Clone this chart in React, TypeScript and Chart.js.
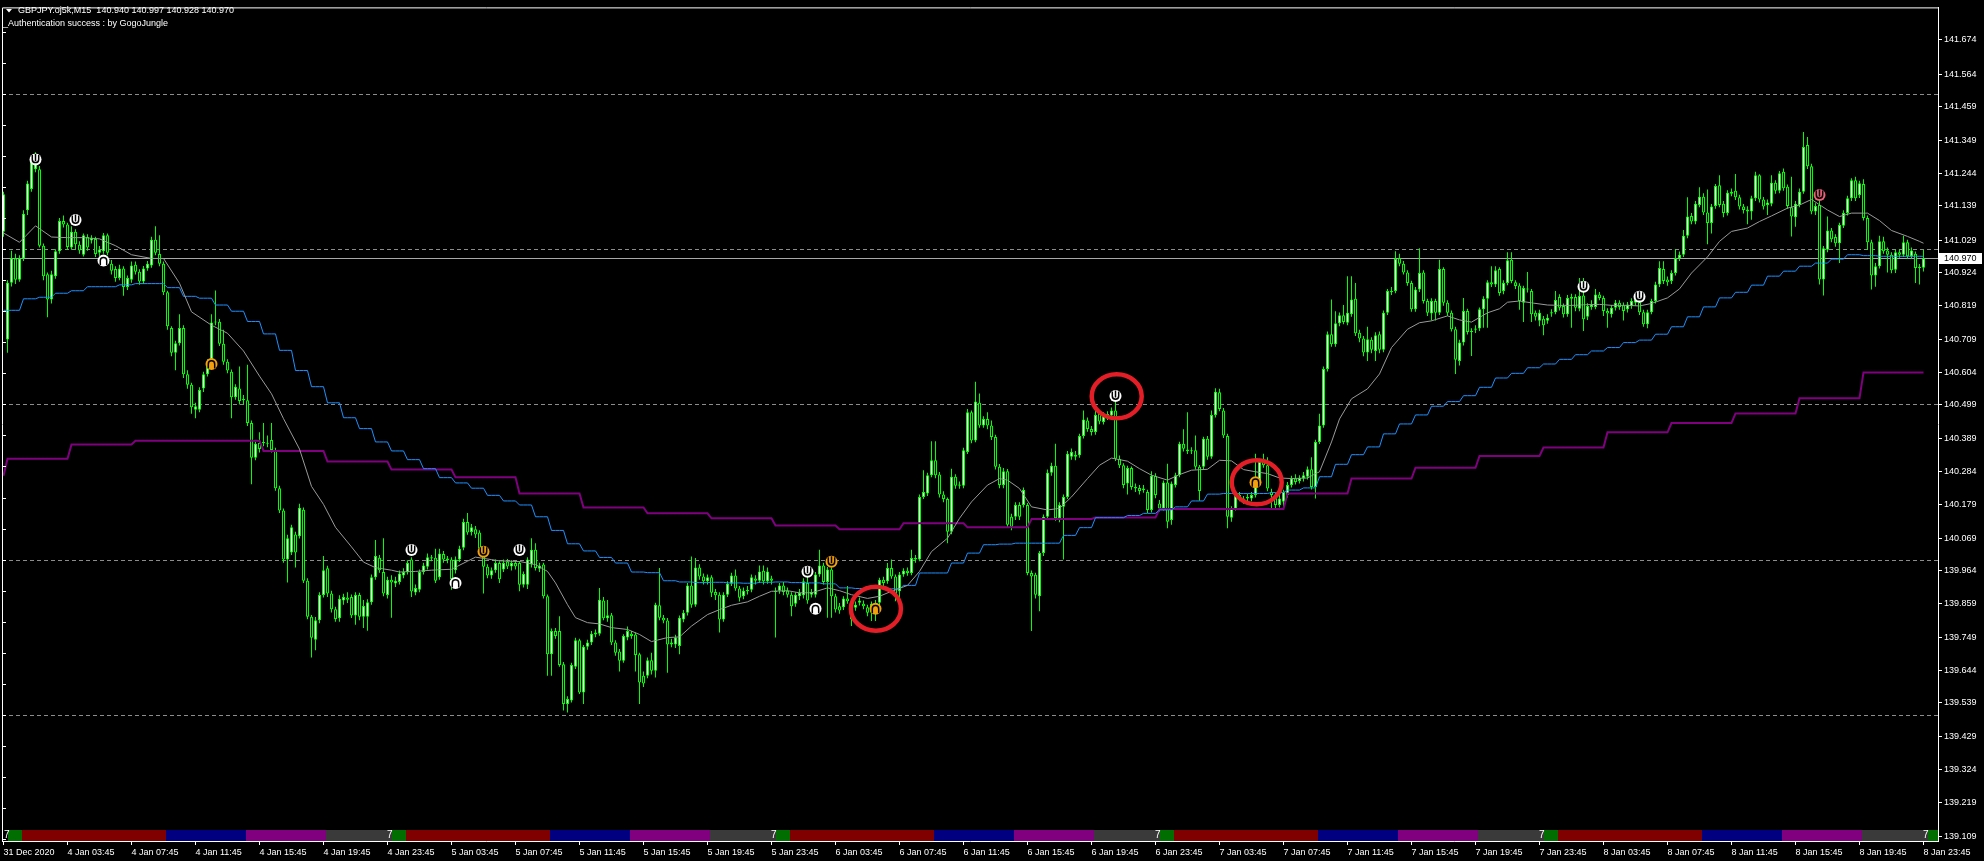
import React, { useEffect, useRef } from 'react';
import { Chart, registerables } from 'chart.js';

Chart.register(...registerables);

const FONT_FAMILY = '"Liberation Sans", Arial, sans-serif';
const PRICE_BASE = 139;
const POINT = 0.001;

// OHLC of each M15 bar, in points above 139.000 (1 point = 0.001)
const openPts = [
  2056,1709,1892,1970,1901,1970,2125,2194,2257,2257,
  2011,1919,1838,1913,1993,2091,2079,2005,2056,2014,
  1982,2039,2028,2033,1988,1993,2045,1953,1936,1907,
  1938,1878,1901,1950,1927,1896,1938,1947,2030,1984,
  1953,1861,1746,1666,1697,1746,1597,1563,1483,1483,
  1551,1597,1637,1764,1766,1695,1637,1605,1523,1551,
  1517,1513,1440,1328,1376,1379,1376,1385,1353,1230,
  1158,1000,1023,1081,1075,1161,932,816,742,805,
  886,972,891,840,811,868,878,880,820,886,
  816,816,863,943,1006,960,886,935,923,928,
  949,960,1000,894,903,960,977,1008,1006,943,
  1018,1004,1000,966,1000,1038,1121,1089,1098,1087,
  1035,977,949,966,989,968,994,978,989,989,
  919,919,984,1032,971,984,882,695,770,770,
  663,535,546,655,740,572,719,733,759,761,
  868,811,821,733,704,674,749,761,759,695,
  626,626,676,642,853,813,804,727,727,722,
  807,829,917,855,975,946,930,943,896,887,
  807,887,922,949,907,882,898,903,939,932,
  964,930,939,900,900,917,900,887,858,882,
  885,925,887,887,952,981,928,968,882,850,
  847,875,845,845,861,858,847,829,850,861,
  935,930,973,946,898,952,964,957,1005,1000,
  1202,1213,1272,1320,1274,1210,1195,1090,1267,1238,
  1238,1347,1475,1384,1505,1432,1453,1432,1395,1299,
  1240,1285,1138,1138,1176,1176,1176,957,951,882,
  1021,1138,1280,1302,1133,1170,1202,1331,1338,1336,
  1398,1448,1421,1411,1469,1443,1459,1464,1480,1325,
  1304,1245,1295,1234,1231,1224,1218,1160,1270,1181,
  1165,1248,1128,1240,1272,1373,1355,1349,1352,1299,
  1299,1389,1331,1466,1539,1480,1398,1135,1165,1208,
  1197,1197,1197,1208,1245,1315,1304,1218,1208,1176,
  1186,1208,1240,1261,1253,1261,1267,1291,1234,1379,
  1432,1614,1726,1694,1761,1787,1763,1790,1840,1731,
  1712,1667,1708,1672,1726,1676,1795,1865,1865,1971,
  1953,1925,1891,1806,1870,1925,1833,1793,1833,1795,
  1936,1827,1795,1742,1640,1699,1801,1733,1740,1744,
  1806,1840,1893,1886,1936,1865,1891,1966,1893,1883,
  1827,1872,1865,1795,1769,1776,1769,1793,1797,1846,
  1817,1790,1840,1846,1808,1851,1782,1814,1814,1854,
  1843,1801,1790,1811,1827,1819,1806,1817,1827,1829,
  1797,1758,1797,1833,1886,1936,1902,1897,1923,1971,
  1982,2043,2107,2089,2142,2169,2118,2084,2139,2206,
  2146,2116,2178,2188,2167,2137,2121,2121,2164,2238,
  2160,2142,2146,2214,2188,2249,2201,2135,2103,2142,
  2185,2335,2267,2121,2142,1902,1998,2060,2039,2019,
  2075,2116,2164,2222,2174,2210,2100,2022,1915,1945,
  2025,1996,1982,1934,1990,1982,2022,1977,1985,1943,
  1940
];
const highPts = [
  2185,1900,1995,1985,1980,2125,2220,2300,2312,2268,
  2018,1925,1930,2000,2100,2108,2085,2074,2064,2025,
  2050,2048,2045,2040,2010,2052,2050,1965,1945,1950,
  1945,1915,1960,1960,1935,1946,1962,2040,2074,2045,
  1960,1866,1752,1705,1790,1755,1610,1570,1505,1555,
  1605,1645,1790,1867,1775,1740,1645,1612,1565,1622,
  1530,1628,1448,1380,1410,1440,1400,1440,1360,1238,
  1165,1080,1112,1090,1180,1168,940,822,815,895,
  1012,980,900,848,885,890,895,888,895,893,
  870,872,952,1063,1015,1069,945,950,945,965,
  972,998,1008,920,968,990,1020,1015,1035,1035,
  1028,1012,1008,1010,1045,1132,1150,1115,1108,1095,
  1042,985,975,1000,995,1000,1002,998,996,995,
  962,1008,1069,1053,990,990,888,778,780,818,
  670,560,668,748,745,725,742,770,775,909,
  880,870,828,740,712,760,785,770,765,700,
  640,685,700,861,973,822,812,745,758,820,
  838,925,1010,1005,985,955,952,950,905,895,
  895,930,958,968,915,910,915,952,950,981,
  981,975,948,910,925,928,910,895,895,905,
  940,952,905,960,1032,990,976,975,890,860,
  882,915,852,865,878,868,855,865,870,942,
  945,989,1000,952,960,972,975,1032,1015,1210,
  1288,1280,1381,1381,1282,1220,1200,1293,1275,1252,
  1360,1485,1480,1573,1535,1462,1475,1448,1402,1308,
  1295,1292,1148,1185,1185,1232,1182,965,958,1028,
  1145,1290,1312,1373,1185,1210,1350,1358,1350,1405,
  1480,1458,1430,1485,1478,1475,1478,1490,1512,1335,
  1310,1302,1300,1245,1240,1240,1225,1285,1278,1192,
  1255,1309,1252,1280,1380,1420,1475,1362,1400,1305,
  1396,1398,1480,1552,1550,1488,1405,1172,1215,1218,
  1205,1212,1218,1341,1325,1341,1330,1228,1215,1230,
  1225,1250,1270,1275,1272,1282,1300,1330,1386,1470,
  1622,1735,1838,1800,1796,1820,1913,1913,1891,1740,
  1720,1750,1716,1732,1735,1802,1872,1878,1993,1985,
  1962,1932,1898,1878,2003,1932,1840,1842,1840,1966,
  1942,1835,1802,1750,1708,1843,1808,1745,1755,1812,
  1848,1900,1945,1945,1942,1900,1990,1990,1900,1890,
  1882,1926,1872,1802,1805,1785,1790,1806,1865,1855,
  1825,1852,1856,1855,1907,1907,1826,1835,1872,1862,
  1850,1810,1820,1836,1835,1828,1830,1842,1848,1836,
  1805,1805,1840,1895,1961,1961,1912,1932,2000,1992,
  2062,2167,2116,2155,2199,2180,2192,2145,2210,2238,
  2155,2190,2195,2242,2175,2145,2138,2172,2249,2241,
  2168,2160,2238,2222,2252,2260,2208,2233,2155,2195,
  2377,2361,2275,2148,2180,2010,2105,2068,2048,2085,
  2125,2172,2228,2233,2220,2225,2108,2030,1955,2043,
  2040,2005,1990,1998,2000,2043,2030,2005,1992,1952,
  1997
];
const lowPts = [
  2040,1666,1880,1888,1895,1962,2110,2185,2248,2005,
  1900,1781,1825,1905,1985,2070,1998,1998,2000,1985,
  1976,1995,2018,1975,1978,1985,1980,1918,1895,1900,
  1850,1868,1892,1918,1885,1888,1930,1940,1980,1945,
  1852,1740,1655,1610,1690,1585,1550,1470,1455,1475,
  1540,1590,1630,1755,1688,1628,1600,1455,1515,1500,
  1500,1430,1243,1320,1345,1365,1362,1345,1222,1150,
  990,926,1015,975,1068,925,808,685,708,795,
  878,880,830,800,800,855,860,812,790,805,
  780,771,855,935,958,882,875,813,912,920,
  940,952,880,885,895,952,968,995,925,935,
  990,988,903,955,992,1030,1080,1078,1070,1028,
  891,940,938,958,925,960,970,965,968,898,
  910,905,975,965,960,875,626,626,745,655,
  514,508,540,648,567,535,710,725,750,755,
  805,800,725,690,640,668,740,745,640,535,
  590,618,630,620,805,795,636,718,715,695,
  798,820,845,848,935,920,920,880,870,765,
  800,880,915,900,865,872,888,895,920,925,
  920,922,920,749,890,885,878,818,848,870,
  875,858,878,878,945,920,813,813,830,826,
  838,858,786,835,852,840,818,802,802,852,
  915,922,938,866,866,945,948,950,990,995,
  1195,1205,1265,1262,1200,1185,1053,1082,1228,1228,
  1230,1340,1375,1378,1425,1425,1420,1385,1290,1230,
  1230,1105,1095,1128,1128,1168,950,770,875,834,
  1012,1130,1270,1125,1120,1000,1195,1322,1320,1328,
  1390,1412,1400,1402,1436,1435,1450,1455,1318,1295,
  1230,1210,1225,1218,1210,1215,1150,1152,1198,1155,
  1158,1101,1112,1232,1265,1348,1340,1340,1290,1190,
  1290,1322,1325,1458,1478,1392,1101,1122,1158,1188,
  1180,1188,1188,1200,1238,1296,1220,1165,1165,1168,
  1165,1200,1232,1242,1245,1252,1258,1226,1197,1372,
  1425,1606,1686,1686,1752,1758,1755,1782,1720,1700,
  1655,1640,1665,1640,1665,1668,1788,1852,1858,1945,
  1918,1882,1798,1798,1862,1825,1785,1770,1770,1788,
  1818,1785,1735,1598,1625,1690,1725,1656,1730,1736,
  1747,1747,1878,1878,1850,1855,1884,1890,1872,1805,
  1765,1860,1765,1770,1752,1723,1760,1782,1790,1802,
  1780,1782,1747,1800,1800,1736,1772,1805,1806,1835,
  1785,1747,1780,1802,1805,1770,1796,1808,1818,1788,
  1750,1745,1790,1825,1878,1888,1882,1888,1915,1962,
  1975,2035,2080,2080,2135,2110,2016,2050,2130,2135,
  2103,2108,2170,2158,2128,2115,2080,2095,2155,2150,
  2128,2110,2138,2178,2180,2188,2130,2041,2072,2135,
  2178,2258,2112,2110,1886,1851,1990,2022,2008,1955,
  2068,2108,2155,2155,2165,2092,1998,1870,1879,1938,
  1985,1925,1922,1923,1972,1975,1968,1968,1891,1886,
  1928
];
const closePts = [
  2177,1892,1970,1901,1970,2114,2211,2292,2303,2011,
  1913,1838,1919,1993,2091,2079,2007,2056,2016,1996,
  2045,2005,2037,1984,1999,2045,1988,1930,1907,1938,
  1878,1907,1947,1927,1896,1938,1953,2030,1988,1953,
  1861,1752,1666,1697,1746,1597,1563,1491,1494,1546,
  1597,1632,1764,1766,1695,1637,1609,1523,1557,1511,
  1513,1440,1328,1373,1356,1376,1373,1353,1230,1158,
  1000,1069,1104,1023,1167,932,816,748,805,886,
  966,891,840,809,874,880,871,820,886,816,
  851,863,943,1012,966,891,935,926,932,955,
  960,989,897,909,960,981,1008,1004,932,1020,
  1000,998,937,1000,1035,1121,1087,1104,1081,1035,
  977,949,966,989,937,989,978,989,978,919,
  954,1000,1032,973,981,882,695,770,754,661,
  535,551,661,740,572,719,733,761,765,871,
  811,821,733,700,674,754,770,754,693,604,
  601,676,642,855,813,804,727,733,749,813,
  829,917,855,975,946,930,943,893,885,807,
  887,922,949,907,877,900,903,943,932,962,
  930,962,932,896,917,896,887,850,887,893,
  930,868,896,952,981,928,968,882,839,836,
  875,866,807,855,868,850,829,858,861,935,
  925,973,946,887,952,964,957,1005,1000,1202,
  1218,1272,1320,1272,1210,1195,1090,1267,1238,1242,
  1352,1475,1384,1509,1432,1453,1432,1395,1299,1240,
  1285,1112,1106,1176,1138,1224,957,946,887,1021,
  1138,1280,1302,1133,1176,1202,1341,1347,1331,1398,
  1451,1421,1411,1466,1445,1466,1469,1480,1325,1304,
  1240,1295,1234,1229,1221,1229,1160,1270,1208,1165,
  1248,1122,1245,1272,1373,1357,1349,1352,1299,1221,
  1389,1331,1466,1541,1485,1400,1138,1165,1208,1197,
  1192,1202,1208,1245,1315,1304,1229,1208,1176,1197,
  1218,1240,1261,1250,1263,1272,1291,1234,1379,1432,
  1614,1726,1694,1761,1787,1765,1795,1838,1729,1712,
  1667,1710,1676,1723,1676,1795,1865,1861,1968,1953,
  1925,1891,1806,1870,1923,1833,1795,1833,1795,1936,
  1827,1795,1742,1644,1699,1801,1733,1736,1744,1806,
  1840,1893,1886,1932,1859,1891,1964,1897,1881,1833,
  1875,1870,1790,1782,1795,1755,1779,1797,1836,1811,
  1790,1843,1846,1811,1849,1774,1817,1822,1854,1843,
  1801,1793,1811,1827,1814,1801,1822,1833,1838,1797,
  1758,1797,1833,1886,1939,1897,1893,1923,1971,1982,
  2043,2105,2089,2146,2169,2118,2084,2137,2203,2142,
  2116,2182,2185,2167,2137,2126,2128,2164,2238,2160,
  2137,2150,2214,2188,2244,2196,2139,2105,2146,2185,
  2329,2267,2121,2139,1902,2003,2060,2032,2019,2078,
  2116,2164,2222,2164,2212,2100,2022,1915,1945,2025,
  1993,1982,1932,1990,1982,2022,1977,1996,1939,1939,
  1970
];

// time axis labels, one every 16 bars (4 hours)
const timeLabels = [
  '31 Dec 2020',
  '4 Jan 03:45', '4 Jan 07:45', '4 Jan 11:45', '4 Jan 15:45', '4 Jan 19:45', '4 Jan 23:45',
  '5 Jan 03:45', '5 Jan 07:45', '5 Jan 11:45', '5 Jan 15:45', '5 Jan 19:45', '5 Jan 23:45',
  '6 Jan 03:45', '6 Jan 07:45', '6 Jan 11:45', '6 Jan 15:45', '6 Jan 19:45', '6 Jan 23:45',
  '7 Jan 03:45', '7 Jan 07:45', '7 Jan 11:45', '7 Jan 15:45', '7 Jan 19:45', '7 Jan 23:45',
  '8 Jan 03:45', '8 Jan 07:45', '8 Jan 11:45', '8 Jan 15:45', '8 Jan 19:45', '8 Jan 23:45'
];
const TIME_TICK_STEP = 16;

const priceTickLabels = [
  '141.674', '141.564', '141.459', '141.349', '141.244', '141.139', '141.029', '140.924',
  '140.819', '140.709', '140.604', '140.499', '140.389', '140.284', '140.179', '140.069',
  '139.964', '139.859', '139.749', '139.644', '139.539', '139.429', '139.324', '139.219', '139.109'
];
const roundLevels = [141.5, 141.0, 140.5, 140.0, 139.5];
const bidPrice = 140.97;
const bidLabel = '140.970';
const priceAxisMin = 139.09376;
const priceAxisMax = 141.77856;
const barAxisMin = -0.375;
const barAxisMax = 483.625;

// gray moving average, sampled (bar index, points)
const maBars = [
  0,4,8,12,16,20,24,28,32,37,40,44,47,52,56,60,64,67,70,74,
  77,80,83,87,90,93,97,99,103,107,112,116,118,122,124,129,133,136,138,141,
  143,146,149,152,156,159,162,166,169,172,176,179,182,186,189,192,196,199,202,206,
  209,212,216,219,222,226,229,232,236,239,242,246,249,251,254,257,261,264,267,271,
  274,277,281,284,287,291,294,297,301,304,307,310,313,316,319,322,326,329,332,334,
  337,341,344,347,351,354,357,361,364,367,371,374,376,379,382,386,389,392,396,399,
  402,406,409,412,416,419,422,426,429,432,436,439,442,446,449,452,456,459,462,466,
  469,472,476,479,480
];
const maPts = [
  2052,2022,2075,2039,2037,2037,2033,2011,1982,1970,1970,1890,1798,1755,1729,1672,1591,1534,1454,1356,
  1236,1178,1104,1041,992,974,966,960,962,966,969,995,1008,1000,996,994,984,962,925,855,
  813,797,793,781,775,759,736,749,751,786,823,839,853,864,882,898,900,893,893,909,
  900,887,875,882,898,917,962,1026,1069,1133,1186,1240,1261,1256,1229,1170,1160,1165,1202,1261,
  1304,1327,1317,1293,1272,1256,1274,1288,1291,1320,1318,1290,1283,1277,1263,1261,1263,1283,1379,1453,
  1518,1550,1598,1683,1742,1763,1769,1785,1772,1765,1795,1808,1829,1833,1827,1820,1819,1819,1821,1822,
  1819,1819,1817,1825,1843,1872,1923,1975,2025,2057,2068,2089,2107,2132,2142,2160,2126,2105,2116,2116,
  2092,2060,2041,2025,2019
];

// blue line: one value per hour (4 bars), points
const blueHourPts = [
  1803,1803,1840,1845,1858,1866,1879,1879,1885,1889,
  1889,1876,1848,1842,1820,1800,1767,1727,1674,1609,
  1557,1505,1457,1422,1379,1350,1322,1293,1264,1247,
  1230,1207,1189,1176,1138,1094,1051,1028,1007,989,
  960,958,932,928,926,927,925,924,927,928,
  926,925,922,909,907,907,906,917,957,957,
  989,1021,1048,1050,1053,1053,1053,1078,1103,1135,
  1135,1142,1149,1160,1170,1189,1211,1213,1213,1213,
  1216,1224,1231,1267,1307,1338,1363,1405,1437,1466,
  1494,1509,1528,1555,1585,1600,1618,1630,1645,1660,
  1672,1683,1699,1707,1726,1750,1782,1814,1843,1861,
  1884,1913,1929,1945,1955,1968,1982,1979,1977,1977,
  1977
];
// purple line: one value per 4 hours (16 bars), points
const purple4hPts = [
  1270,1325,1371,1383,1383,1350,1316,1290,1265,1213,
  1168,1149,1133,1110,1098,1117,1104,1131,1136,1163,
  1163,1213,1261,1296,1334,1361,1410,1440,1471,1520,
  1603
];

// signal markers
const markerBars = [8, 18, 25, 52, 102, 113, 120, 129, 201, 203, 207, 218, 278, 313, 395, 409, 454];
const markerPrices = [141.289, 141.094, 140.963, 140.630, 140.031, 139.925, 140.025, 140.031, 139.961, 139.842, 139.993, 139.842, 140.527, 140.249, 140.879, 140.847, 141.174];
const markerColors = ['#ffffff', '#ffffff', '#ffffff', '#f5a00f', '#ffffff', '#ffffff', '#f5a00f', '#ffffff', '#ffffff', '#ffffff', '#f5a00f', '#f5a00f', '#ffffff', '#f5a00f', '#ffffff', '#ffffff', '#f0607a'];
const markerDown = [1, 1, 0, 0, 1, 0, 1, 1, 1, 0, 1, 0, 1, 0, 1, 1, 1];

// red annotation circles
const circleBars = [218.1, 278.3, 313.3];
const circlePrices = [139.842, 140.526, 140.249];

// session bar at the bottom (per day, in bars from day start)
const BARS_PER_DAY = 96;
const sessionDays = [0, 1, 2, 3, 4, 5];
const sessionColors = ['#006e00', '#800000', '#000080', '#800080', '#3a3a3a'];
const sessionFrom = [1, 4.5, 40.5, 60.5, 80.5];
const sessionTo = [4.5, 40.5, 60.5, 80.5, 97];
const sessionLabel = '7';

const headerSymbol = 'GBPJPY.oj5k,M15';
const headerPrices = '140.940 140.997 140.928 140.970';
const headerNote = '_Authentication success : by GogoJungle';

const toPrice = (p: number) => PRICE_BASE + p * POINT;

function drawMarker(ctx: CanvasRenderingContext2D, cx: number, cy: number, color: string, down: boolean) {
  ctx.save();
  ctx.fillStyle = color;
  ctx.beginPath();
  ctx.arc(cx, cy, 6, 0, Math.PI * 2);
  ctx.fill();
  ctx.strokeStyle = '#000000';
  ctx.lineWidth = 1.5;
  ctx.beginPath();
  if (down) {
    ctx.moveTo(cx - 3.2, cy - 4.5);
    ctx.lineTo(cx - 3.2, cy);
    ctx.arc(cx, cy, 3.2, Math.PI, 0, true);
    ctx.lineTo(cx + 3.2, cy - 4.5);
    ctx.moveTo(cx, cy - 5.5);
    ctx.lineTo(cx, cy + 1.5);
  } else {
    ctx.moveTo(cx - 3.2, cy + 4.5);
    ctx.lineTo(cx - 3.2, cy);
    ctx.arc(cx, cy, 3.2, Math.PI, 0, false);
    ctx.lineTo(cx + 3.2, cy + 4.5);
  }
  ctx.stroke();
  ctx.restore();
}

const mt4Plugin = {
  id: 'mt4Decor',
  beforeDraw(chart: any) {
    const { ctx, width, height } = chart;
    ctx.save();
    ctx.fillStyle = '#000000';
    ctx.fillRect(0, 0, width, height);
    ctx.restore();
  },
  beforeDatasetsDraw(chart: any) {
    const { ctx, chartArea: a, scales } = chart;
    const y = scales.y;
    ctx.save();
    ctx.lineWidth = 1;
    ctx.strokeStyle = '#8c8c8c';
    ctx.setLineDash([4, 3]);
    for (const lv of roundLevels) {
      const py = Math.round(y.getPixelForValue(lv)) + 0.5;
      ctx.beginPath();
      ctx.moveTo(a.left, py);
      ctx.lineTo(a.right, py);
      ctx.stroke();
    }
    ctx.setLineDash([]);
    ctx.strokeStyle = '#a8a8a8';
    const by = Math.round(y.getPixelForValue(bidPrice)) + 0.5;
    ctx.beginPath();
    ctx.moveTo(a.left, by);
    ctx.lineTo(a.right, by);
    ctx.stroke();
    ctx.restore();
  },
  afterDatasetsDraw(chart: any) {
    const { ctx, chartArea: a, scales } = chart;
    const x = scales.x;
    const y = scales.y;
    ctx.save();
    // session bar
    const top = a.bottom - 11;
    for (const d of sessionDays) {
      for (let s = 0; s < sessionColors.length; s++) {
        let x0 = Math.round(x.getPixelForValue(d * BARS_PER_DAY + sessionFrom[s]));
        let x1 = Math.round(x.getPixelForValue(d * BARS_PER_DAY + sessionTo[s]));
        x0 = Math.max(a.left + 1, x0);
        x1 = Math.min(a.right, x1);
        if (x1 <= x0) continue;
        ctx.fillStyle = sessionColors[s];
        ctx.fillRect(x0, top, x1 - x0, 11);
      }
      const gx = Math.round(x.getPixelForValue(d * BARS_PER_DAY + sessionFrom[0])) - 5;
      ctx.fillStyle = '#ffffff';
      ctx.font = '10px ' + FONT_FAMILY;
      ctx.textAlign = 'left';
      ctx.textBaseline = 'middle';
      ctx.fillText(sessionLabel, Math.max(a.left + 2, gx), top + 5.5);
    }
    // signal markers
    for (let i = 0; i < markerBars.length; i++) {
      drawMarker(ctx, x.getPixelForValue(markerBars[i]), y.getPixelForValue(markerPrices[i]), markerColors[i], markerDown[i] === 1);
    }
    // red circles
    ctx.strokeStyle = '#e41e26';
    ctx.lineWidth = 4.5;
    for (let i = 0; i < circleBars.length; i++) {
      ctx.beginPath();
      ctx.ellipse(x.getPixelForValue(circleBars[i]), y.getPixelForValue(circlePrices[i]), 25, 22, 0, 0, Math.PI * 2);
      ctx.stroke();
    }
    ctx.restore();
  },
  afterDraw(chart: any) {
    const { ctx, chartArea: a, scales } = chart;
    const y = scales.y;
    ctx.save();
    // frame
    ctx.strokeStyle = '#ffffff';
    ctx.lineWidth = 1;
    ctx.beginPath();
    ctx.moveTo(a.left + 0.5, a.bottom);
    ctx.lineTo(a.left + 0.5, a.top + 0.5);
    ctx.lineTo(a.right, a.top + 0.5);
    ctx.stroke();
    // small ticks on the left edge every 0.1
    for (let k = 0; k <= 26; k++) {
      const py = Math.round(y.getPixelForValue(139.1 + k * 0.1)) + 0.5;
      ctx.beginPath();
      ctx.moveTo(a.left, py);
      ctx.lineTo(a.left + 4, py);
      ctx.stroke();
    }
    // header
    ctx.fillStyle = '#ffffff';
    ctx.beginPath();
    ctx.moveTo(6, 9);
    ctx.lineTo(12, 9);
    ctx.lineTo(9, 12.5);
    ctx.closePath();
    ctx.fill();
    ctx.font = '9px ' + FONT_FAMILY;
    ctx.textAlign = 'left';
    ctx.textBaseline = 'middle';
    ctx.fillText(headerSymbol + '  ' + headerPrices, 18, 11);
    ctx.fillText(headerNote, 3, 24);
    // current price box
    const by = Math.round(y.getPixelForValue(bidPrice));
    ctx.fillStyle = '#ffffff';
    ctx.fillRect(a.right, by - 5, 44, 11);
    ctx.fillStyle = '#000000';
    ctx.fillText(bidLabel, a.right + 6, by + 0.5);
    ctx.restore();
  }
};

export default function App() {
  const ref = useRef<HTMLCanvasElement>(null);
  useEffect(() => {
    const canvas = ref.current;
    if (!canvas) return;
    const bodies = openPts.map((o, i) => ({ x: i, y: [toPrice(o), toPrice(closePts[i])] }));
    const wicks = lowPts.map((l, i) => ({ x: i, y: [toPrice(l), toPrice(highPts[i])] }));
    const blueData = openPts.map((_, i) => ({ x: i, y: toPrice(blueHourPts[Math.floor((i + 3) / 4)]) }));
    const purpleData = openPts.map((_, i) => ({ x: i, y: toPrice(purple4hPts[Math.floor((i + 15) / 16)]) }));
    const maData = maBars.map((b, i) => ({ x: b, y: toPrice(maPts[i]) }));
    const font = { family: FONT_FAMILY, size: 9 };
    const chart = new Chart(canvas, {
      type: 'bar',
      data: {
        datasets: [
          { type: 'bar', label: 'wick', data: wicks as any, backgroundColor: '#00ff00', borderWidth: 0, barThickness: 1, grouped: false, inflateAmount: 0, order: 5 } as any,
          {
            type: 'bar', label: 'body', data: bodies as any,
            backgroundColor: (c: any) => (c.dataIndex == null ? '#ffffff' : (closePts[c.dataIndex] >= openPts[c.dataIndex] ? '#ffffff' : '#000000')),
            borderColor: '#00ff00', borderWidth: 1, borderSkipped: false, barThickness: 3, grouped: false, inflateAmount: 0, minBarLength: 1, order: 4
          } as any,
          { type: 'line', label: 'purple', data: purpleData as any, borderColor: '#800080', borderWidth: 2, pointRadius: 0, tension: 0, order: 3 } as any,
          { type: 'line', label: 'blue', data: blueData as any, borderColor: '#1e90ff', borderWidth: 1, pointRadius: 0, tension: 0, order: 2 } as any,
          { type: 'line', label: 'ma', data: maData as any, borderColor: '#9a9a9a', borderWidth: 1, pointRadius: 0, tension: 0, order: 1 } as any
        ]
      },
      options: {
        responsive: false,
        animation: false,
        devicePixelRatio: 1,
        events: [],
        layout: { padding: { left: 2, top: 2, right: 0, bottom: 0 } },
        plugins: { legend: { display: false }, tooltip: { enabled: false }, title: { display: false } },
        scales: {
          x: {
            type: 'linear',
            min: barAxisMin,
            max: barAxisMax,
            offset: false,
            bounds: 'data',
            afterFit: (s: any) => { s.height = 20; },
            afterBuildTicks: (s: any) => { s.ticks = timeLabels.map((_, k) => ({ value: k * TIME_TICK_STEP })); },
            ticks: {
              color: '#ffffff', font, autoSkip: false, maxRotation: 0, minRotation: 0, align: 'start', padding: 2,
              callback: (_v: any, i: number) => timeLabels[i]
            },
            grid: { display: true, drawOnChartArea: false, drawTicks: true, tickLength: 4, color: '#ffffff', offset: false },
            border: { display: true, color: '#ffffff', width: 1 }
          },
          y: {
            type: 'linear',
            position: 'right',
            min: priceAxisMin,
            max: priceAxisMax,
            bounds: 'data',
            afterFit: (s: any) => { s.width = 46; },
            afterBuildTicks: (s: any) => { s.ticks = priceTickLabels.map(l => ({ value: parseFloat(l) })); },
            ticks: {
              color: '#ffffff', font, autoSkip: false, padding: 2, crossAlign: 'near',
              callback: (_v: any, i: number) => priceTickLabels[i]
            },
            grid: { display: true, drawOnChartArea: false, drawTicks: true, tickLength: 4, color: '#ffffff' },
            border: { display: true, color: '#ffffff', width: 1 }
          }
        }
      } as any,
      plugins: [mt4Plugin]
    } as any);
    return () => chart.destroy();
  }, []);
  return (
    <div style={{ position: 'fixed', left: 0, top: 0, width: 1984, height: 861, background: '#000000' }}>
      <canvas ref={ref} width={1984} height={861} style={{ display: 'block', width: 1984, height: 861 }} />
    </div>
  );
}
